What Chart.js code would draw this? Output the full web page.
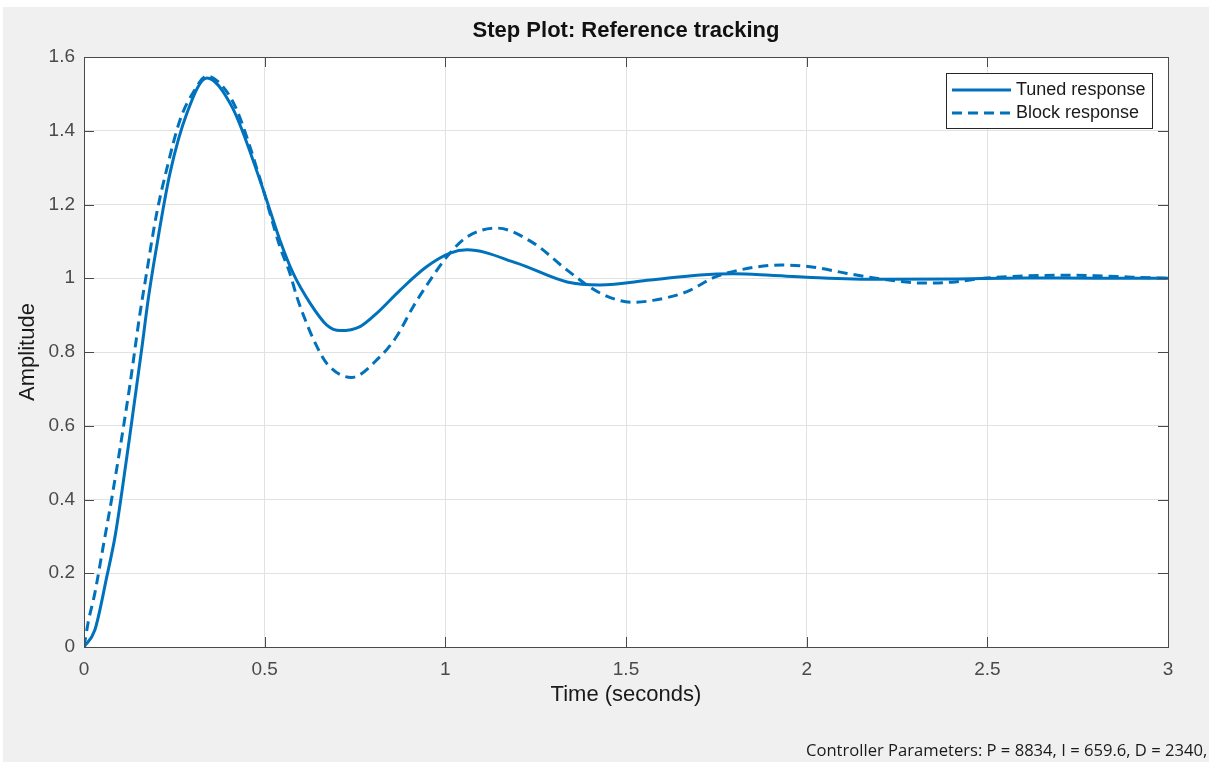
<!DOCTYPE html>
<html>
<head>
<meta charset="utf-8">
<title>Step Plot: Reference tracking</title>
<script src="https://cdn.jsdelivr.net/npm/chart.js@4.4.1/dist/chart.umd.min.js"></script>
<style>
  html, body { margin: 0; padding: 0; background: #fff; overflow: hidden; }
  #wrap { position: absolute; left: 3px; top: 7px; width: 1206px; height: 755px; background: #f0f0f0; }
  #params {
    position: absolute; left: 806px; top: 738px;
    font: 16.6px "Open Sans", "Noto Sans", sans-serif; color: #1a1a1a; white-space: nowrap;
  }
</style>
</head>
<body>
<div id="wrap"><canvas id="stepPlot" width="1206" height="755"></canvas></div>
<div id="params">Controller Parameters: P = 8834, I = 659.6, D = 2340,</div>
<script>
// Tuned response (solid)
const tunedTime = [0, 0.03, 0.063, 0.086, 0.104, 0.132, 0.16, 0.178, 0.2, 0.238, 0.285, 0.34, 0.41, 0.487,
  0.542, 0.579, 0.626, 0.672, 0.709, 0.764, 0.81, 0.875, 0.948, 1.013, 1.06, 1.198, 1.337, 1.428, 1.567,
  1.705, 1.8, 1.9, 2.0, 2.2, 2.4, 2.6, 2.8, 3.0];
const tunedAmp = [0, 0.046, 0.19, 0.3, 0.415, 0.61, 0.81, 0.945, 1.08, 1.285, 1.448, 1.543, 1.464, 1.266,
  1.104, 1.013, 0.932, 0.873, 0.858, 0.869, 0.905, 0.968, 1.031, 1.068, 1.077, 1.041, 0.99, 0.982, 0.995,
  1.009, 1.012, 1.008, 1.003, 0.997, 0.998, 1.001, 1.0, 1.0];

// Block response (dashed)
const blockTime = [0, 0.012, 0.03, 0.053, 0.077, 0.104, 0.127, 0.155, 0.17, 0.2, 0.23, 0.266, 0.303, 0.34,
  0.385, 0.423, 0.487, 0.542, 0.57, 0.589, 0.616, 0.64, 0.672, 0.74, 0.819, 0.865, 0.911, 0.958, 1.004, 1.06,
  1.143, 1.243, 1.337, 1.428, 1.52, 1.575, 1.667, 1.746, 1.838, 1.93, 2.02, 2.112, 2.228, 2.32, 2.41, 2.49,
  2.6, 2.7, 2.8, 2.9, 3.0];
const blockAmp = [0, 0.069, 0.146, 0.272, 0.404, 0.565, 0.71, 0.905, 0.995, 1.17, 1.3, 1.43, 1.505, 1.548,
  1.519, 1.456, 1.27, 1.086, 1.013, 0.95, 0.878, 0.824, 0.769, 0.731, 0.787, 0.842, 0.923, 0.995, 1.058, 1.112,
  1.136, 1.096, 1.022, 0.96, 0.935, 0.94, 0.963, 1.003, 1.027, 1.036, 1.03, 1.013, 0.995, 0.987, 0.99, 1.0,
  1.006, 1.008, 1.007, 1.003, 1.0];

const xTicks = [0, 0.5, 1, 1.5, 2, 2.5, 3];
const yTicks = [0, 0.2, 0.4, 0.6, 0.8, 1, 1.2, 1.4, 1.6];

const lineBlue = '#0072bd';
const axisColor = '#4a4a4a';
const gridColor = '#e2e2e2';
const fontFamily = '"Liberation Sans", Arial, Helvetica, sans-serif';

const toPoints = (xs, ys) => xs.map((x, i) => ({ x: x, y: ys[i] }));

// white plot area + title
const plotBackground = {
  id: 'plotBackground',
  beforeDraw(chart) {
    const { ctx, chartArea } = chart;
    ctx.save();
    ctx.fillStyle = '#fff';
    ctx.fillRect(chartArea.left, chartArea.top, chartArea.right - chartArea.left, chartArea.bottom - chartArea.top);
    ctx.fillStyle = '#111';
    ctx.font = 'bold 22px ' + fontFamily;
    ctx.textAlign = 'center';
    ctx.textBaseline = 'middle';
    ctx.fillText('Step Plot: Reference tracking', (chartArea.left + chartArea.right) / 2, 24);
    ctx.restore();
  }
};

// box, inward ticks and legend on top
const axesBox = {
  id: 'axesBox',
  afterDraw(chart) {
    const { ctx, chartArea, scales } = chart;
    const { left, right, top, bottom } = chartArea;
    ctx.save();
    ctx.strokeStyle = axisColor;
    ctx.lineWidth = 1;
    ctx.strokeRect(left + 0.5, top + 0.5, right - left, bottom - top);
    ctx.beginPath();
    xTicks.forEach(v => {
      const px = Math.round(scales.x.getPixelForValue(v)) + 0.5;
      ctx.moveTo(px, bottom); ctx.lineTo(px, bottom - 10);
      ctx.moveTo(px, top); ctx.lineTo(px, top + 10);
    });
    yTicks.forEach(v => {
      const py = Math.round(scales.y.getPixelForValue(v)) + 0.5;
      ctx.moveTo(left, py); ctx.lineTo(left + 10, py);
      ctx.moveTo(right, py); ctx.lineTo(right - 10, py);
    });
    ctx.stroke();

    // legend
    const w = 206, h = 55;
    const lx = right - 16 - w, ly = top + 16;
    ctx.fillStyle = '#fff';
    ctx.fillRect(lx, ly, w, h);
    ctx.strokeStyle = '#262626';
    ctx.strokeRect(lx + 0.5, ly + 0.5, w, h);
    ctx.font = '18px ' + fontFamily;
    ctx.textBaseline = 'middle';
    chart.data.datasets.forEach((ds, i) => {
      const cy = ly + 17 + i * 23;
      ctx.strokeStyle = ds.borderColor;
      ctx.lineWidth = ds.borderWidth;
      ctx.setLineDash(ds.borderDash || []);
      ctx.beginPath();
      ctx.moveTo(lx + 6, cy); ctx.lineTo(lx + 65, cy);
      ctx.stroke();
      ctx.setLineDash([]);
      ctx.fillStyle = '#1a1a1a';
      ctx.fillText(ds.label, lx + 70, cy);
    });
    ctx.restore();
  }
};

new Chart(document.getElementById('stepPlot'), {
  type: 'line',
  data: {
    datasets: [{
      label: 'Tuned response',
      data: toPoints(tunedTime, tunedAmp),
      borderColor: lineBlue,
      borderWidth: 3,
      pointRadius: 0,
      cubicInterpolationMode: 'monotone',
      fill: false
    }, {
      label: 'Block response',
      data: toPoints(blockTime, blockAmp),
      borderColor: lineBlue,
      borderWidth: 3,
      borderDash: [10, 6],
      pointRadius: 0,
      cubicInterpolationMode: 'monotone',
      fill: false
    }]
  },
  options: {
    responsive: false,
    animation: false,
    layout: { padding: { top: 50, right: 41, left: 0, bottom: 0 } },
    plugins: {
      legend: { display: false },
      title: { display: false },
      tooltip: { enabled: false }
    },
    scales: {
      x: {
        type: 'linear',
        min: 0, max: 3,
        afterBuildTicks: scale => { scale.ticks = xTicks.map(v => ({ value: v })); },
        afterFit: scale => { scale.height = 115; },
        ticks: { color: axisColor, padding: 11, font: { size: 19, family: fontFamily }, callback: v => String(v) },
        grid: { color: gridColor, drawTicks: false },
        border: { display: false },
        title: {
          display: true, text: 'Time (seconds)', color: '#1a1a1a',
          font: { size: 22, family: fontFamily, lineHeight: 1.2 },
          padding: { top: 0, bottom: 53.8 }
        }
      },
      y: {
        min: 0, max: 1.6,
        afterBuildTicks: scale => { scale.ticks = yTicks.map(v => ({ value: v })); },
        afterFit: scale => { scale.width = 81; },
        ticks: { color: axisColor, padding: 9, font: { size: 19, family: fontFamily }, callback: v => String(v) },
        grid: { color: gridColor, drawTicks: false },
        border: { display: false },
        title: {
          display: true, text: 'Amplitude', color: '#1a1a1a',
          font: { size: 22, family: fontFamily, lineHeight: 1.2 },
          padding: { top: 11.3, bottom: 0 }
        }
      }
    }
  },
  plugins: [plotBackground, axesBox]
});
</script>
</body>
</html>
